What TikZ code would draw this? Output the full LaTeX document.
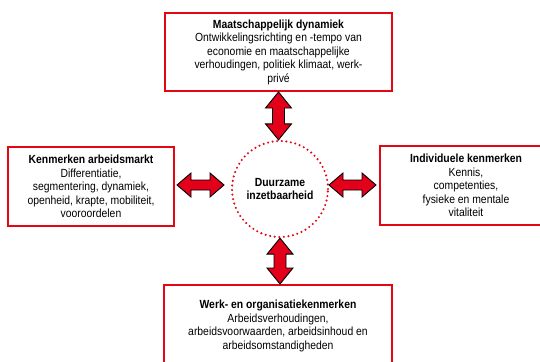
\documentclass[tikz,border=0pt]{standalone}
\usepackage{fontspec}
\setmainfont{Liberation Sans}[FakeStretch=0.88]
\usetikzlibrary{calc}
\definecolor{boxred}{HTML}{E30613}
\definecolor{arrred}{HTML}{E2001A}
\tikzset{
  infobox/.style={draw=boxred, line width=2pt, fill=white, align=center,
    inner sep=2pt, font=\fontsize{11.8}{13.5}\selectfont},
  hub/.style={circle, draw=boxred, line width=2.3pt, dash pattern=on 0pt off 4.6pt,
    line cap=round, minimum size=96pt, inner sep=0pt, align=center,
    font=\bfseries\fontsize{11.8}{13.5}\selectfont},
  fatarrow/.style={draw=black, fill=arrred, line width=0.9pt, line join=miter}
}
\newcommand\varrow[2]{\draw[fatarrow] let \p1=(#1), \p2=(#2) in
  (\x1,\y1) -- (\x1-13pt,\y1-16pt) -- (\x1-6pt,\y1-16pt) -- (\x1-6pt,\y2+16pt)
  -- (\x1-13pt,\y2+16pt) -- (\x1,\y2) -- (\x1+13pt,\y2+16pt) -- (\x1+6pt,\y2+16pt)
  -- (\x1+6pt,\y1-16pt) -- (\x1+13pt,\y1-16pt) -- cycle;}
\newcommand\harrow[2]{\draw[fatarrow] let \p1=(#1), \p2=(#2) in
  (\x1,\y1) -- (\x1+14pt,\y1+12pt) -- (\x1+14pt,\y1+5pt) -- (\x2-14pt,\y1+5pt)
  -- (\x2-14pt,\y1+12pt) -- (\x2,\y1) -- (\x2-14pt,\y1-12pt) -- (\x2-14pt,\y1-5pt)
  -- (\x1+14pt,\y1-5pt) -- (\x1+14pt,\y1-12pt) -- cycle;}
\begin{document}
\begin{tikzpicture}[x=1pt,y=1pt]
\useasboundingbox (0,0) rectangle (540,-361);
\clip (0,0) rectangle (540,-361);
\fill[white] (0,0) rectangle (540,-361);

\node[infobox, minimum width=227pt, minimum height=78pt] (top) at (278.5,-52)
  {\textbf{Maatschappelijk dynamiek}\\Ontwikkelingsrichting en -tempo van\\economie en maatschappelijke\\verhoudingen, politiek klimaat, werk-\\privé};
\node[infobox, minimum width=166pt, minimum height=79pt] (left) at (91,-186.5)
  {\textbf{Kenmerken arbeidsmarkt}\\Differentiatie,\\segmentering, dynamiek,\\openheid, krapte, mobiliteit,\\vooroordelen};
\node[infobox, minimum width=172pt, minimum height=79pt] (right) at (466,-185.5)
  {\textbf{Individuele kenmerken}\\Kennis,\\competenties,\\fysieke en mentale\\vitaliteit};
\node[infobox, minimum width=228pt, minimum height=82pt] (bot) at (278,-326)
  {\textbf{Werk- en organisatiekenmerken}\\Arbeidsverhoudingen,\\arbeidsvoorwaarden, arbeidsinhoud en\\arbeidsomstandigheden};

\node[hub] (c) at (280,-189) {Duurzame\\inzetbaarheid};

\coordinate (la) at (177,-185);
\coordinate (lb) at (224,-185);
\coordinate (ra) at (329,-185);
\coordinate (rb) at (376,-185);

\varrow{top.south}{c.north}
\varrow{c.south}{bot.north}
\harrow{la}{lb}
\harrow{ra}{rb}
\end{tikzpicture}
\end{document}
